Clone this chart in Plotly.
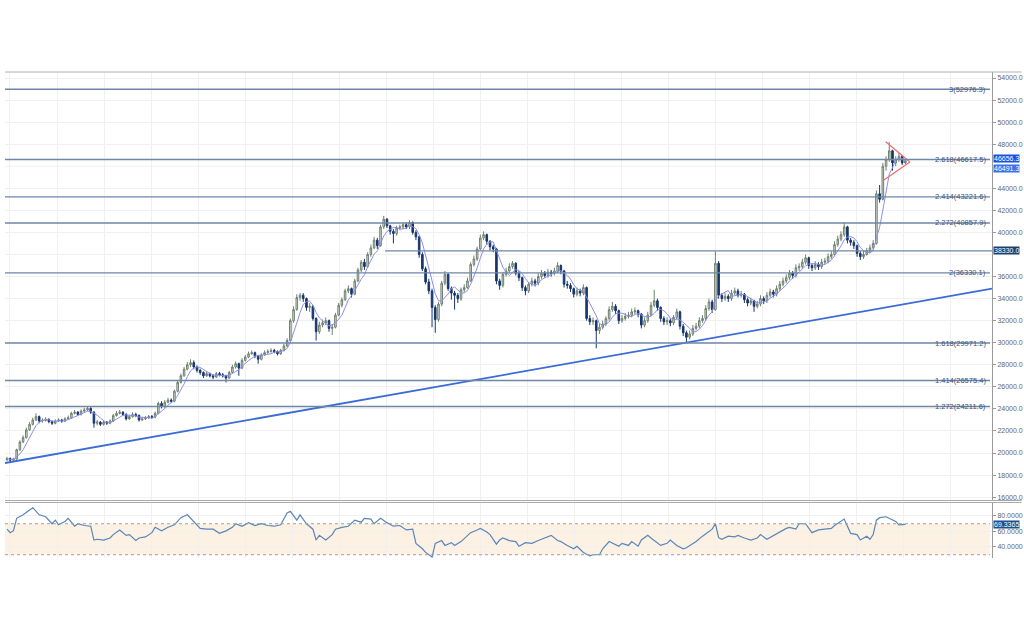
import plotly.graph_objects as go
import pandas as pd

# ---------------- data ----------------
first_open = 19400
closes = [19500,19350,19450,20300,21000,21400,22100,22600,23000,23300,
 22900,22950,23050,22850,22700,22900,23000,22900,23100,23200,
 23600,23700,23500,23800,23900,24050,23700,22700,22800,22600,
 22800,22700,22900,23400,23600,23700,23500,23100,23300,23500,
 23400,23000,23100,23200,23300,23250,23600,24500,24200,24600,
 24800,24700,25600,26400,27000,27600,28000,28200,27800,27500,
 27300,27000,27200,27000,26900,27200,27100,27000,26800,27300,
 27800,28100,27700,28400,28700,29000,29100,28800,28500,28900,
 29100,29200,29300,29200,29000,29300,29700,30200,32000,33000,
 34100,34300,34000,33200,33300,32200,31000,31600,31800,32000,
 31300,31400,32500,33400,33900,34700,34900,34400,35600,36600,
 37300,36900,38000,38600,39300,38800,40500,41200,40600,40100,
 39900,40400,40500,40700,40500,40900,40000,39600,38000,36700,
 35500,34700,33200,32100,33500,35400,36200,34900,34500,34300,
 34000,34800,35000,35600,37100,37600,38500,39500,39800,39200,
 38700,38500,35600,35200,36200,36500,36900,37200,36300,35900,
 35000,34700,35300,35600,35400,36000,36300,36100,36400,36300,
 36500,37000,36500,35300,35200,34900,34400,34700,34500,35000,
 32200,31900,32000,31100,31400,31700,32200,33000,33300,32900,
 32000,32200,32400,32500,32800,32900,32600,31600,32000,32500,
 33400,33800,33200,32200,31900,32000,31800,32300,32800,31500,
 30900,30500,30800,31300,31500,32000,32200,33100,33700,33000,
 37200,34300,34000,34200,34000,34500,34700,34300,34400,33900,
 33600,33800,33300,33500,34000,33800,34300,34600,34400,34900,
 35300,35600,35900,36300,36100,36800,36900,37300,37700,37000,
 36800,37100,36900,37300,37400,37800,38000,38900,39400,39800,
 40500,39300,39100,38800,38100,37800,38000,38300,38600,39000,
 43500,43000,46000,46600,47400,46300,46600,46900,46300,46500]

highs = [19650,19600,19550,20400,21150,21600,22300,22800,23200,23600,
 23400,23150,23250,23150,22950,23050,23150,23100,23250,23400,
 23750,23900,23800,23950,24100,24250,24150,23800,23000,22900,
 22950,22900,23050,23550,23800,23900,23800,23600,23450,23700,
 23650,23500,23250,23350,23450,23450,23750,24650,24700,24800,
 25000,24950,25750,26550,27200,27800,28250,28500,28400,27950,
 27650,27400,27400,27300,27150,27350,27350,27250,27100,27450,
 28000,28300,28200,28600,28900,29200,29300,29200,28900,29050,
 29300,29400,29500,29450,29300,29450,29900,30400,32200,33300,
 34400,34500,34500,34100,33600,33400,32300,31900,32100,32300,
 32100,31700,32700,33600,34100,34900,35200,35000,35800,36800,
 37500,37600,38200,38900,39600,39500,40700,41500,41300,40700,
 40300,40600,40700,40900,40900,41100,41000,40200,39700,38200,
 36900,35800,34900,33400,33700,35600,36500,36300,35100,34700,
 34500,35000,35300,35900,37300,37900,38700,39800,40100,39900,
 39300,38900,38600,35800,36400,36800,37200,37400,37300,36500,
 36000,35200,35500,35900,35800,36300,36600,36500,36700,36600,
 36800,37300,37100,36600,35600,35400,35000,35000,34900,35300,
 35100,32500,32300,32100,31700,32000,32400,33300,33700,33500,
 33000,32500,32700,32800,33100,33200,33000,32700,32300,32800,
 33700,34800,34000,33300,32400,32300,32200,32500,33100,32900,
 31700,31100,31100,31600,31800,32300,32500,33400,34000,33900,
 38300,37400,34500,34500,34400,34800,35000,34900,34700,34500,
 34100,34100,33900,33800,34300,34200,34600,34900,34800,35200,
 35600,35900,36200,36600,36500,37100,37200,37600,38000,37800,
 37200,37400,37300,37600,37700,38100,38300,39200,39700,40100,
 40900,40600,39500,39300,38900,38300,38300,38600,38900,39300,
 43800,44300,46300,46900,48200,47500,46900,47200,47000,46700]

lows = [19250,19200,19250,19400,20200,20900,21300,22000,22500,22900,
 22700,22750,22850,22700,22550,22600,22800,22750,22800,23000,
 23100,23500,23350,23400,23700,23800,23550,22300,22500,22450,
 22500,22550,22600,22800,23300,23500,23350,22950,23000,23200,
 23250,22850,22900,23000,23100,23100,23150,23500,24050,24100,
 24500,24550,24600,25500,26300,26900,27500,27800,27600,27300,
 27100,26800,26900,26850,26700,26800,26950,26850,26400,26700,
 27200,27650,27000,27600,28300,28600,28900,28600,28100,28400,
 28800,29000,29100,29050,28850,28900,29200,29600,30100,31800,
 32900,33800,33700,32900,32800,32000,30200,30800,31400,31600,
 31000,30700,31300,32400,33200,33800,34500,34100,34300,35500,
 36400,36600,36800,37800,38500,38500,38700,40300,40400,39800,
 39000,39700,40200,40300,40300,40300,39800,39300,37700,36500,
 35300,34400,31400,30900,31900,33300,35200,34700,33900,33000,
 33600,33800,34600,34900,35500,36900,37400,38400,39300,38900,
 38400,38200,35300,34800,35000,36000,36300,36700,36100,35600,
 34700,34300,34500,35100,35100,35200,35800,35900,35900,36000,
 36100,36300,36200,35000,34900,34600,34100,34200,34200,34300,
 32000,31600,31600,29500,30800,31200,31500,32000,32800,32600,
 31700,31800,32000,32200,32300,32600,32300,31300,31400,31800,
 32400,33200,32900,31900,31600,31600,31500,31600,32100,31200,
 30600,30000,30300,30600,31100,31300,31800,32000,32900,32700,
 32900,34000,33700,33800,33700,33800,34300,34100,34100,33600,
 33300,33400,32800,33100,33300,33500,33600,34100,34100,34200,
 34700,35100,35400,35700,35800,35900,36500,36700,37100,36700,
 36500,36600,36600,36700,37100,37200,37600,37900,38700,39200,
 39600,39000,38800,38500,37800,37500,37600,37900,38100,38400,
 38900,42700,42900,45600,46400,45600,46000,46400,46100,46200]

opens = [first_open] + closes[:-1]
bars = list(range(len(closes)))
ma_window = 5

fib_ratios = ["3", "2.618", "2.414", "2.272", "2", "1.618", "1.414", "1.272"]
fib_prices = [52976.3, 46617.5, 43221.6, 40857.9, 36330.1, 29971.2, 26575.4, 24211.6]

# price-axis ticks (the labels hidden behind the price tags are left out)
price_ticks = [16000, 18000, 20000, 22000, 24000, 26000, 28000, 30000, 32000, 34000,
               36000, 40000, 42000, 44000, 48000, 50000, 52000, 54000]
rsi_ticks = [40, 60, 80]

pivot_level = 38330.0
pivot_start_bar = 117.4
last_prices = [46656.3, 46491.3]

trend_bars = [-0.62, 305.9]
trend_prices = [19095, 34900]
tri_upper_bars = [272.9, 280.4]
tri_upper_prices = [48225, 46385]
tri_lower_bars = [272.0, 280.4]
tri_lower_prices = [44690, 46385]

rsi_bar = [0,1,2,3,5,7,8,10,11,12,14,15,16,18,19,21,22,24,26,27,28,30,32,33,35,37,38,40,41,43,
 45,46,48,50,52,54,56,57,60,62,64,66,68,70,71,73,75,77,79,81,83,85,87,88,90,91,93,95,96,97,
 99,101,102,104,106,108,110,111,113,114,116,118,120,122,124,126,127,129,130,132,133,135,136,138,139,141,143,144,146,147,
 149,150,152,153,154,156,158,159,161,163,165,166,168,169,171,172,174,176,177,179,181,182,184,185,187,188,190,191,193,194,
 196,197,199,200,202,203,205,206,208,210,211,213,214,216,218,219,220,221,222,224,226,227,229,231,233,234,236,238,240,242,
 243,245,246,248,250,252,254,256,257,259,260,262,264,265,267,268,269,270,271,273,275,276,277,279]
rsi_value = [63,58.5,61,77,81.5,88,90.7,81.5,80.6,79,70,74.6,68.6,73,77,66.8,70,67.7,66.8,49,50,49,51.6,56,62,55,56,48.3,51.6,53,
 58.5,65.4,60.8,65.4,68.6,77.8,81.5,77,64,63,63,57.6,60.8,65.4,70,66.8,71.4,67.7,70,67.7,66.8,68.6,83.8,86,74.6,81.5,70,63,49,55,
 49,56,63,65.4,66.8,74.6,72,77,76,70,77,71.4,66.8,67.7,62,63,44.7,37.7,33,27,44.7,48.3,42,45.6,42,47,54,58.5,62,64,
 59.4,56,43.7,49,51.6,48.3,47,41,45.6,44.7,48.3,50,53,55,48.3,47,42,37.7,41,33,28.5,30,30,37.7,47,44.7,41,44.7,42,47,
 41,49,55,51.6,44.7,42,44.7,49,42,37.7,39,44.7,47,54,60.8,63,70,52,50,53.9,53,54.8,51.6,49,51.6,56,50,54.8,58.5,64,
 65.4,63,70,70,58.5,62,63,64,67.7,73,76,57.6,56,49,53.9,50,56,74.6,77.8,79,74.6,73,68.6,69.3]
rsi_upper = 70
rsi_lower = 30
last_rsi = 69.3365

# ---------------- styling ----------------
FIB_COLOR = "#6e86a8"
GRID = "#f0f0f0"
AXIS = "#9a9a9a"
FONT = "Liberation Sans, Arial, sans-serif"

ma = pd.Series(closes).rolling(ma_window, min_periods=1).mean()

fig = go.Figure()

fig.add_trace(go.Candlestick(
    x=bars, open=opens, high=highs, low=lows, close=closes,
    increasing=dict(fillcolor="#d6e2d3", line=dict(color="#6f806f", width=1)),
    decreasing=dict(fillcolor="#17366b", line=dict(color="#17366b", width=1)),
    whiskerwidth=0, xaxis="x", yaxis="y", hoverinfo="skip"))

fig.add_trace(go.Scatter(x=bars, y=ma, mode="lines",
    line=dict(color="#8e8cf0", width=1), xaxis="x", yaxis="y", hoverinfo="skip"))

fig.add_trace(go.Scatter(x=trend_bars, y=trend_prices, mode="lines",
    line=dict(color="#3a6bd6", width=1.8), xaxis="x", yaxis="y", hoverinfo="skip"))

for bx, py in ((tri_upper_bars, tri_upper_prices), (tri_lower_bars, tri_lower_prices)):
    fig.add_trace(go.Scatter(x=bx, y=py, mode="lines",
        line=dict(color="#f07070", width=1.3), xaxis="x", yaxis="y", hoverinfo="skip"))

fig.add_trace(go.Scatter(x=rsi_bar, y=rsi_value, mode="lines",
    line=dict(color="#5a86b6", width=1.2), xaxis="x2", yaxis="y2", hoverinfo="skip"))

shapes = []
annotations = []

for r, p in zip(fib_ratios, fib_prices):
    shapes.append(dict(type="line", xref="paper", yref="y", x0=0, x1=0.998, y0=p, y1=p,
                       line=dict(color=FIB_COLOR, width=1.4), layer="above"))
    annotations.append(dict(xref="paper", yref="y", x=0.996, y=p, xanchor="right", yanchor="middle",
                            text=f"{r}({p})", showarrow=False,
                            font=dict(family=FONT, size=7.5, color="#3e5275")))

shapes.append(dict(type="line", xref="x", yref="y", x0=pivot_start_bar, x1=305.9,
                   y0=pivot_level, y1=pivot_level, line=dict(color=FIB_COLOR, width=1.4)))

# faint grid lines where tick labels are hidden by tags
for gv in (38000, 46000):
    shapes.append(dict(type="line", xref="paper", yref="y", x0=0, x1=1, y0=gv, y1=gv,
                       line=dict(color=GRID, width=1), layer="below"))

# RSI band and guide lines
shapes.append(dict(type="rect", xref="paper", yref="y2", x0=0, x1=0.998, y0=rsi_lower, y1=rsi_upper,
                   fillcolor="#fdf1e4", line=dict(width=0), layer="below"))
for lv in (rsi_upper, rsi_lower):
    shapes.append(dict(type="line", xref="paper", yref="y2", x0=0, x1=0.998, y0=lv, y1=lv,
                       line=dict(color="#a0a0a0", width=1, dash="dot")))

# borders
shapes.append(dict(type="line", xref="paper", yref="paper", x0=0, x1=1.03, y0=1, y1=1,
                   line=dict(color="#b0b0b0", width=1)))
for yy in (0.1183, 0.1142):
    shapes.append(dict(type="line", xref="paper", yref="paper", x0=0, x1=1.03, y0=yy, y1=yy,
                       line=dict(color="#a8a8a8", width=1)))

def tag(y, yref, text, color, yshift=0):
    return dict(xref="paper", yref=yref, x=1.0, y=y, xanchor="left", yanchor="middle",
                xshift=1, yshift=yshift, text=text, showarrow=False, bgcolor=color,
                borderpad=0, font=dict(family=FONT, size=7, color="white"))

annotations.append(tag(last_prices[0], "y", f"{last_prices[0]:.1f}", "#1b4fe0", yshift=1))
annotations.append(tag(last_prices[1], "y", f"{last_prices[1]:.1f}", "#3f6fe8", yshift=-8))
annotations.append(tag(pivot_level, "y", f"{pivot_level:.1f}", "#1f3f70"))
annotations.append(tag(last_rsi, "y2", f"{last_rsi:.4f}", "#1f4f8c"))

xcommon = dict(range=[-0.62, 305.9], showticklabels=False, showgrid=True, gridcolor=GRID,
               tick0=0.93, dtick=14.6, zeroline=False, showline=False, ticks="")

fig.update_layout(
    width=1024, height=630,
    margin=dict(l=5, r=32, t=72, b=72),
    paper_bgcolor="white", plot_bgcolor="white",
    showlegend=False, hovermode=False,
    font=dict(family=FONT, size=7, color="#666666"),
    xaxis=dict(domain=[0, 1], anchor="y", rangeslider=dict(visible=False), **xcommon),
    xaxis2=dict(domain=[0, 1], anchor="y2", matches="x", **xcommon),
    yaxis=dict(domain=[0.1183, 1], range=[15695, 54544], side="right", anchor="x",
               tickvals=price_ticks, tickformat=".1f", showgrid=True, gridcolor=GRID,
               zeroline=False, showline=True, linecolor=AXIS, ticks="outside", ticklen=3,
               tickcolor=AXIS, automargin=False, tickfont=dict(size=7, color="#666666")),
    yaxis2=dict(domain=[0, 0.1142], range=[25.8, 97.4], side="right", anchor="x2",
                tickvals=rsi_ticks, tickformat=".4f", showgrid=True, gridcolor=GRID,
                zeroline=False, showline=True, linecolor=AXIS, ticks="outside", ticklen=3,
                tickcolor=AXIS, automargin=False, tickfont=dict(size=7, color="#666666")),
    shapes=shapes, annotations=annotations,
)

fig.write_html("out.html")
